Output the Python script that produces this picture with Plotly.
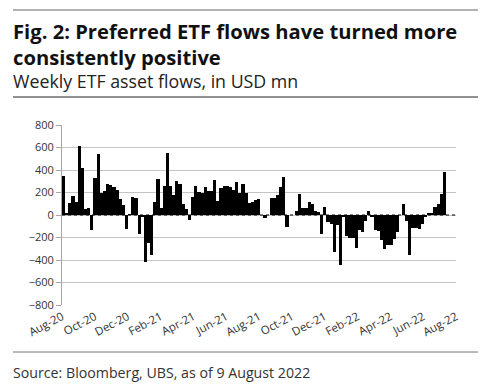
import plotly.graph_objects as go
import numpy as np

# Weekly ETF asset flows (USD mn), Aug-20 .. Aug-22
flows = [
    350, 20, 110, 170, 115, 615, 415, 50, 60, -135, 330, 540, 200, 210, 275, 265, 245, 225, 140,
    85, -120, 5, 160, 150, -165, -20, -420, -245, -355, 115, 320, 65, 260, 555, 255, 180, 305, 280,
    100, 50, -45, 160, 260, 205, 200, 245, 215, 215, 315, 125, 240, 260, 255, 245, 225, 290, 200,
    275, 200, 105, 115, 135, 145,
    0, -30, 0, 150, 155, 180, 245, 340, -105, 0, 0, 35, 185, 60, 65, 120, 95, 40, 25,
    -170, 70, -60, -80, -330, -85, -440, -10, -190, -205, -200, -290, -130, -150, -55, 40, -10,
    -135, -140, -225, -300, -270, -265, -210, -150, 0, 100, -55, -355, -115, -115, -125, -80,
    -20, 20, 10, 70, 100, 190, 380,
]
tick_labels = ["Aug-20", "Oct-20", "Dec-20", "Feb-21", "Apr-21", "Jun-21", "Aug-21",
               "Oct-21", "Dec-21", "Feb-22", "Apr-22", "Jun-22", "Aug-22"]
y_ticks = [-800, -600, -400, -200, 0, 200, 400, 600, 800]

title = "Fig. 2: Preferred ETF flows have turned more<br>consistently positive"
subtitle = "Weekly ETF asset flows, in USD mn"
source = "Source: Bloomberg, UBS, as of 9 August 2022"

W, H = 488, 384
L, R, T, B = 62, 456, 125, 305  # plot area in px
n = len(flows)
bar_px = (446 - 61.5) / n
x0 = -0.5
x1 = n - 0.5 + (R - 446) / bar_px
tickvals = list(np.linspace(x0, x1, len(tick_labels)))

def px_x(px):
    return (px - L) / (R - L)

def px_y(py):
    return (B - py) / (B - T)

FONT = "Open Sans"

fig = go.Figure()
fig.add_trace(go.Bar(x=list(range(n)), y=flows, marker=dict(color="#000000", line=dict(width=0)),
                     showlegend=False, hoverinfo="y"))

fig.update_layout(
    width=W, height=H,
    margin=dict(l=L, r=W - R, t=T, b=H - B, pad=0, autoexpand=False),
    paper_bgcolor="white", plot_bgcolor="white",
    bargap=0.0,
    font=dict(family=FONT, color="#222222"),
    xaxis=dict(range=[x0, x1], tickvals=tickvals, ticktext=tick_labels, tickangle=-28,
               tickfont=dict(size=11.5, color="#333333"), showgrid=False, showline=False,
               zeroline=False, ticks="", ticklabelstandoff=2, automargin=False),
    yaxis=dict(range=[-800, 800], tickvals=y_ticks, tickfont=dict(size=11, color="#333333"),
               showgrid=True, gridcolor="#C4C4C4", gridwidth=1, showline=True,
               linecolor="#A6A6A6", linewidth=1, ticks="outside", ticklen=5,
               tickcolor="#A6A6A6", zeroline=False, automargin=False),
)

shapes = [
    dict(type="line", xref="paper", yref="y", x0=0, x1=1, y0=0, y1=0,
         line=dict(color="#000000", width=1, dash="dot"), layer="above"),
    dict(type="line", xref="paper", yref="paper", x0=px_x(13), x1=px_x(478),
         y0=px_y(10), y1=px_y(10), line=dict(color="#666666", width=1)),
    dict(type="line", xref="paper", yref="paper", x0=px_x(13), x1=px_x(478),
         y0=px_y(97), y1=px_y(97), line=dict(color="#222222", width=1)),
    dict(type="line", xref="paper", yref="paper", x0=px_x(13), x1=px_x(478),
         y0=px_y(352), y1=px_y(352), line=dict(color="#777777", width=1)),
]
fig.update_layout(shapes=shapes)

anns = [
    dict(text="<b>" + title + "</b>", x=px_x(11), y=px_y(44), size=20.2, color="#111111"),
    dict(text=subtitle, x=px_x(11), y=px_y(81), size=17.8, color="#222222"),
    dict(text=source, x=px_x(11), y=px_y(372), size=14.2, color="#333333"),
]
for a in anns:
    fig.add_annotation(text=a["text"], xref="paper", yref="paper", x=a["x"], y=a["y"],
                       xanchor="left", yanchor="middle", align="left", showarrow=False,
                       font=dict(family=FONT, size=a["size"], color=a["color"]))

fig.write_html("out.html", config={"displayModeBar": False},
               post_script="document.body.style.margin='0';document.body.style.overflow='hidden';")
